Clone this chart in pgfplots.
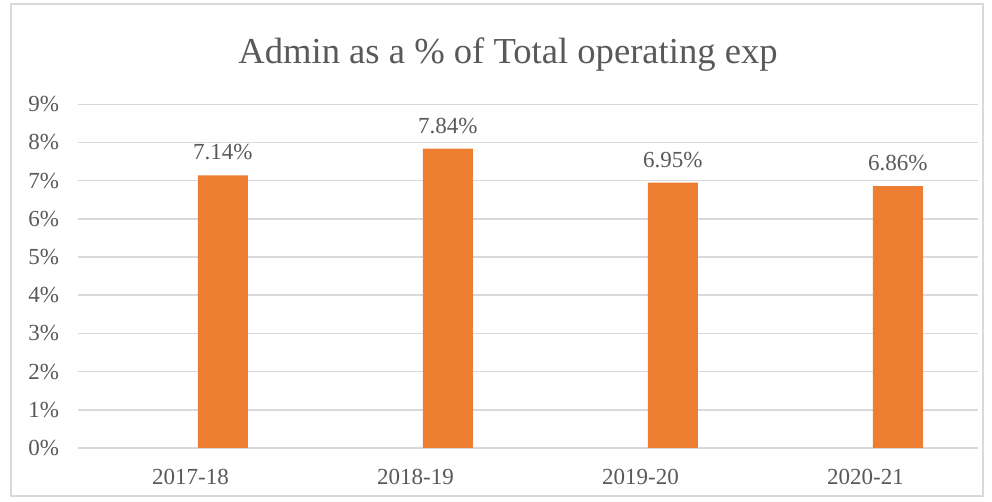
\documentclass[border=0pt]{standalone}
\usepackage{fontspec}
\setmainfont{Liberation Serif}
\usepackage{pgfplots}
\pgfplotsset{compat=1.18}
\definecolor{barorange}{RGB}{237,125,49}
\definecolor{txtgray}{RGB}{89,89,89}
\definecolor{gridgray}{RGB}{217,217,217}
\begin{document}
\begin{tikzpicture}[x=1pt,y=1pt]
\fill[white] (-39,-27) rectangle (457,224);
\useasboundingbox (-39,-27) rectangle (457,224);
\draw[gridgray, line width=0.8pt] (-33.5,-24) rectangle (452.5,222);
\begin{axis}[
  at={(0,0)}, anchor=south west,
  width=450pt, height=171.85pt,
  scale only axis,
  xmin=-0.5, xmax=3.5,
  ymin=0, ymax=9,
  ytick={0,1,...,9},
  xtick={0,1,2,3},
  xticklabels={2017-18,2018-19,2019-20,2020-21},
  yticklabel={\pgfmathprintnumber{\tick}\%},
  /pgf/number format/assume math mode=true,
  axis line style={draw=none},
  tick style={draw=none},
  ymajorgrids,
  grid style={gridgray, line width=0.8pt},
  ticklabel style={font=\fontsize{11.5}{13}\selectfont, text=txtgray},
  yticklabel style={xshift=-6pt},
  xticklabel style={yshift=-3pt},
  ybar, bar width=25pt,
  nodes near coords,
  point meta=explicit symbolic,
  nodes near coords style={font=\fontsize{11.5}{13}\selectfont, text=txtgray, yshift=4pt},
  clip=false,
]
\addplot[fill=barorange, draw=none] coordinates {
  (0.144,7.14) [7.14\%]
  (1.144,7.84) [7.84\%]
  (2.144,6.95) [6.95\%]
  (3.144,6.86) [6.86\%]
};
\end{axis}
\node[font=\fontsize{18.3}{22}\selectfont, text=txtgray] at (215,196.5) {Admin as a \% of Total operating exp};
\end{tikzpicture}
\end{document}
